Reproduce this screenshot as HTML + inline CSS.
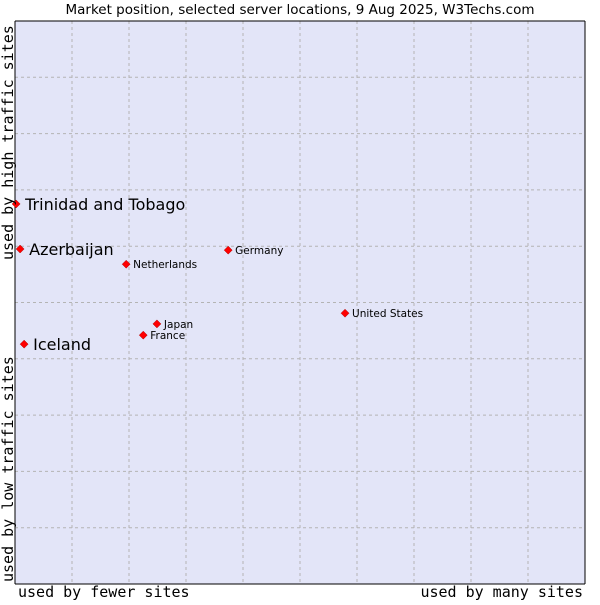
<!DOCTYPE html>
<html><head><meta charset="utf-8"><style>
body{margin:0;background:#fff;width:600px;height:600px;overflow:hidden}
svg text{font-family:"DejaVu Sans","Liberation Sans",sans-serif}
.mono{font-family:"DejaVu Sans Mono","Liberation Mono",monospace}
</style></head><body>
<svg id="chart" width="600" height="600">
<text x="300" y="14" text-anchor="middle" font-size="13.5" fill="#000">Market position, selected server locations, 9 Aug 2025, W3Techs.com</text>
<rect x="15" y="21" width="570" height="563" fill="#e3e5f8"/>
<g id="grid"></g>
<line x1="15" y1="21" x2="15" y2="584" stroke="#000"/>
<line x1="15" y1="21" x2="585" y2="21" stroke="#000"/>
<line x1="15" y1="584" x2="585" y2="584" stroke="#000"/>
<line x1="585" y1="21" x2="585" y2="584" stroke="#000"/>
<g id="points"></g>
<text class="mono" x="18" y="597" font-size="15">used by fewer sites</text>
<text class="mono" x="583" y="597" font-size="15" text-anchor="end">used by many sites</text>
<text class="mono" transform="translate(13,582) rotate(-90)" font-size="15">used by low traffic sites</text>
<text class="mono" transform="translate(13,260) rotate(-90)" font-size="15">used by high traffic sites</text>
</svg>
<script>
const names=["Trinidad and Tobago","Azerbaijan","Iceland","Netherlands","Germany","United States","Japan","France"];
const xVals=[0.2,0.9,1.6,19.5,37.4,57.9,24.9,22.5];
const yVals=[67.5,59.5,42.6,56.8,59.3,48.1,46.2,44.2];
const bigLabel=[true,true,true,false,false,false,false,false];
const X=v=>15+v*5.7, Y=v=>584-v*5.63;
const ns="http://www.w3.org/2000/svg";
const g=document.getElementById('grid');
for(let i=1;i<10;i++){
 let l=document.createElementNS(ns,'line');
 l.setAttribute('x1',X(i*10));l.setAttribute('x2',X(i*10));l.setAttribute('y1',21);l.setAttribute('y2',584);
 l.setAttribute('stroke','#b4b4b4');l.setAttribute('stroke-dasharray','3,3');
 
 
 g.appendChild(l);
 let h=document.createElementNS(ns,'line');
 h.setAttribute('y1',Y(i*10));h.setAttribute('y2',Y(i*10));h.setAttribute('x1',15);h.setAttribute('x2',585);
 h.setAttribute('stroke','#b4b4b4');h.setAttribute('stroke-dasharray','3,3');
 
 
 g.appendChild(h);
}
const p=document.getElementById('points');
names.forEach((n,i)=>{
 const x=X(xVals[i]),y=Y(yVals[i]);
 let d=document.createElementNS(ns,'path');
 d.setAttribute('d',`M${x} ${y-4}L${x+4} ${y}L${x} ${y+4}L${x-4} ${y}Z`);
 d.setAttribute('fill','#f00');d.setAttribute('stroke','#a00');d.setAttribute('stroke-width','0.5');
 
 
 p.appendChild(d);
 let t=document.createElementNS(ns,'text');
 t.setAttribute('x',x+(bigLabel[i]?9:7));t.setAttribute('y',y+(bigLabel[i]?6:4));
 t.setAttribute('font-size',bigLabel[i]?16:10.5);
 t.textContent=n;
 
 
 p.appendChild(t);
});
</script>
</body></html>
